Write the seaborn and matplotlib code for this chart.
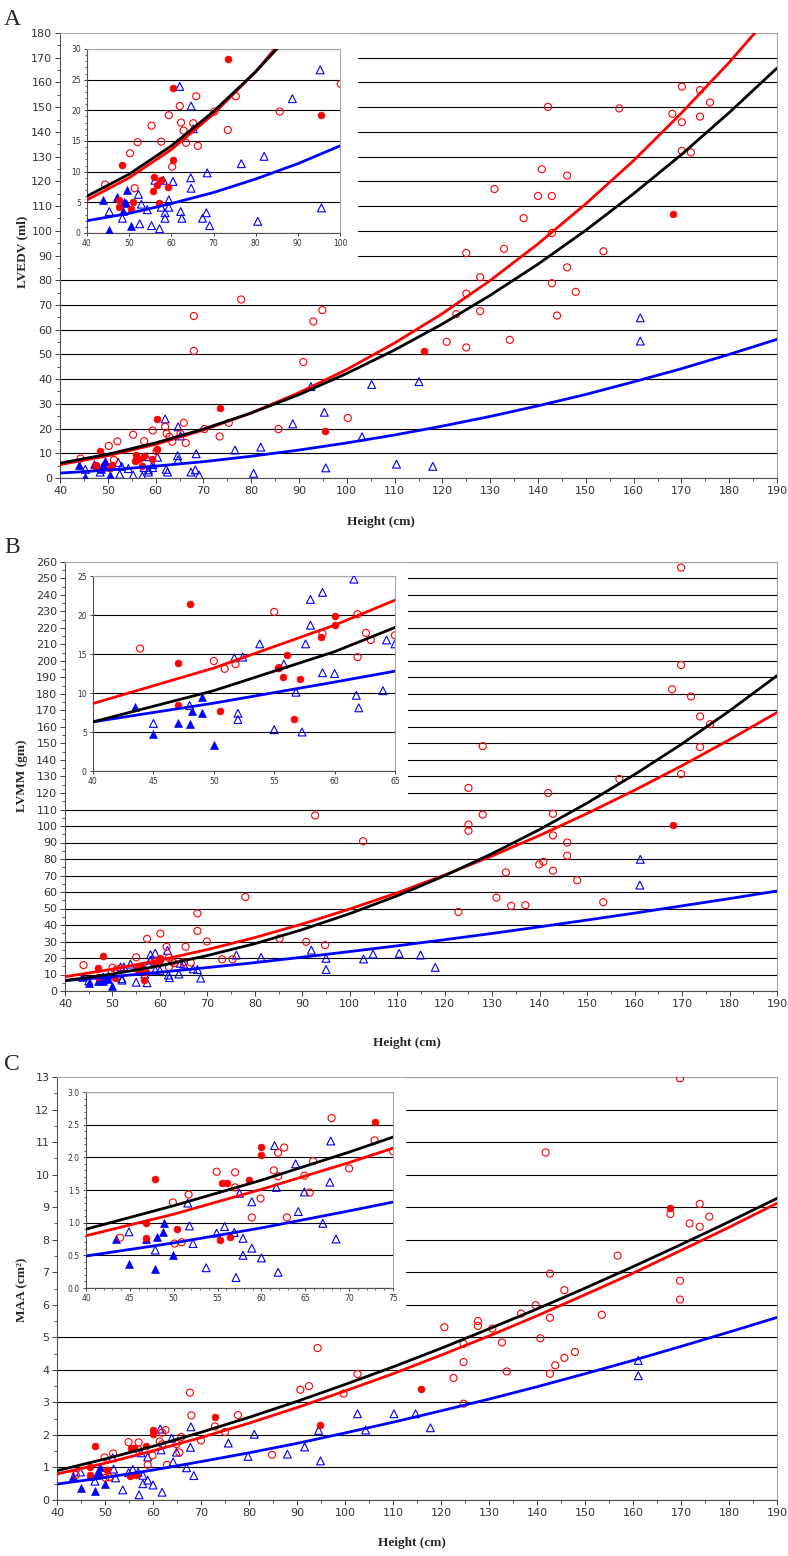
import numpy as np
import pandas as pd
import matplotlib.pyplot as plt
import matplotlib.patches as mpatches
from matplotlib.ticker import MultipleLocator, FormatStrFormatter
import seaborn as sns

sns.set_style("ticks")
plt.rcParams['font.family'] = ['DejaVu Sans']

W, H = 788, 1556

# ---------------- data ----------------
heights = [40, 50, 60, 70, 80, 90, 100, 110, 120, 130, 140, 150, 160, 170, 180, 190]

# Panel A - LVEDV (ml)
A_open_red_x = [44.3, 50.2, 52.0, 51.3, 55.3, 57.6, 59.4, 62.0, 62.3, 62.9, 63.5, 65.2, 65.9, 66.3, 60.2,
                70.2, 73.4, 75.3, 85.7, 100.2, 68.0, 68.0, 77.9, 90.9, 93.0, 94.9, 120.9, 125.0, 122.9, 127.9,
                125.0, 127.9, 125.0, 132.9, 134.1, 130.9, 137.0, 140.0, 142.9, 140.8, 146.1, 142.1, 142.9, 142.9,
                146.1, 147.9, 144.0, 153.7, 157.0, 168.1, 170.1, 170.1, 173.9, 176.0, 173.9, 170.1, 172.0]
A_open_red_y = [7.9, 13.0, 14.8, 7.3, 17.5, 14.9, 19.2, 20.7, 18.0, 16.7, 14.7, 17.9, 22.3, 14.2, 10.8,
                19.8, 16.8, 22.3, 19.8, 24.3, 65.5, 51.4, 72.2, 46.9, 63.3, 67.9, 55.1, 52.8, 66.3, 67.5,
                74.6, 81.2, 91.0, 92.7, 55.9, 116.9, 105.1, 114.1, 114.1, 124.9, 122.3, 150.1, 99.1, 78.8,
                85.2, 75.3, 65.7, 91.7, 149.5, 147.3, 158.3, 143.9, 156.9, 151.9, 146.2, 132.3, 131.7]
A_fill_red_x = [73.5, 60.3, 95.5, 48.4, 60.3, 56.0, 57.6, 56.6, 59.3, 55.7, 47.5, 47.5, 50.9, 50.4, 57.1, 116.2, 168.2]
A_fill_red_y = [28.4, 23.7, 19.2, 11.1, 11.9, 9.2, 8.7, 7.8, 7.5, 6.8, 5.4, 4.3, 5.1, 3.9, 4.9, 51.3, 106.9]
A_open_blue_x = [62.0, 64.7, 65.2, 95.3, 88.7, 82.0, 76.6, 68.5, 64.6, 64.7, 58.1, 60.4, 56.1, 52.2, 52.9,
                 59.4, 57.6, 59.4, 54.3, 58.5, 58.5, 62.2, 62.5, 68.3, 67.4, 69.1, 52.5, 55.3, 57.2, 45.3,
                 48.4, 80.5, 95.6, 105.2, 103.2, 110.4, 92.5, 115.1, 118.0, 161.4, 161.4]
A_open_blue_y = [23.9, 20.7, 17.0, 26.6, 21.9, 12.5, 11.3, 9.8, 9.0, 7.3, 8.6, 8.4, 8.6, 6.3, 4.7,
                 5.4, 4.2, 4.2, 3.8, 3.3, 2.4, 3.5, 2.4, 3.3, 2.4, 1.2, 1.5, 1.2, 0.7, 3.5,
                 2.4, 1.9, 4.1, 37.8, 16.7, 5.6, 37.0, 39.0, 4.7, 64.8, 55.4]
A_fill_blue_x = [43.9, 45.3, 49.4, 47.2, 48.8, 48.5, 50.4, 49.3]
A_fill_blue_y = [5.4, 0.5, 7.0, 5.8, 5.0, 3.6, 1.2, 4.9]
A_fit_black = [6.0, 9.6, 14.2, 19.8, 26.3, 33.7, 42.3, 51.8, 62.3, 73.9, 86.5, 100.2, 115.0, 130.8, 147.8, 165.8]
A_fit_red = [5.4, 9.0, 13.6, 19.4, 26.3, 34.5, 43.9, 54.6, 66.5, 79.9, 94.7, 110.9, 128.4, 147.6, 168.1, 190.3]
A_fit_blue = [2.0, 3.2, 4.8, 6.6, 8.8, 11.3, 14.2, 17.4, 21.0, 24.9, 29.2, 33.8, 38.9, 44.2, 50.0, 56.1]

# Panel B - LVMM (gm)
B_open_red_x = [43.9, 55.0, 50.0, 50.9, 51.8, 55.4, 59.0, 61.9, 61.9, 62.6, 63.0, 65.0,
                92.7, 102.8, 78.0, 67.9, 67.9, 60.1, 57.3, 69.9, 65.4, 61.4, 85.2, 90.8, 94.8, 73.1, 75.3, 66.5,
                169.8, 169.8, 167.9, 171.9, 173.8, 175.9, 173.8, 169.8, 156.8, 128.0, 125.0, 128.0, 125.0,
                125.0, 141.8, 142.8, 142.8, 145.8, 145.8, 147.9, 142.8, 140.8, 139.9, 132.9, 130.9, 134.0,
                137.0, 153.4, 122.9]
B_open_red_y = [15.7, 20.4, 14.1, 13.1, 13.7, 13.2, 17.6, 20.1, 14.6, 17.7, 16.8, 17.4,
                106.4, 90.8, 57.0, 47.0, 36.4, 34.8, 31.6, 30.0, 26.8, 26.8, 31.8, 29.8, 27.8, 19.2, 19.2, 17.2,
                256.6, 197.6, 182.9, 178.5, 166.4, 161.7, 147.8, 131.5, 128.5, 148.4, 123.1, 106.9, 100.9,
                97.1, 120.0, 107.4, 94.3, 90.0, 82.0, 67.1, 72.9, 78.3, 76.7, 71.9, 56.6, 51.6,
                52.0, 53.8, 47.9]
B_fill_red_x = [48.0, 47.0, 47.0, 50.5, 60.0, 60.0, 58.9, 56.1, 55.7, 57.1, 56.6, 55.3, 168.0]
B_fill_red_y = [21.4, 13.8, 8.4, 7.7, 19.9, 18.7, 17.2, 14.9, 12.0, 11.8, 6.7, 13.2, 100.5]
B_open_blue_x = [61.6, 59.0, 58.0, 58.0, 57.6, 53.8, 51.7, 52.4, 55.8, 59.0, 60.0, 64.3, 65.0, 61.8, 62.0,
                 64.0, 56.8, 52.0, 52.0, 48.0, 45.0, 55.0, 57.3,
                 91.9, 95.0, 95.0, 102.9, 104.9, 110.4, 81.3, 76.1, 68.6, 67.9, 67.0, 114.9, 118.0, 161.2, 161.1]
B_open_blue_y = [24.6, 22.9, 22.0, 18.7, 16.3, 16.3, 14.5, 14.6, 13.7, 12.6, 12.5, 16.8, 16.3, 9.7, 8.1,
                 10.3, 10.1, 7.4, 6.6, 8.4, 6.1, 5.3, 5.0,
                 24.8, 19.8, 13.0, 19.4, 22.4, 22.8, 20.4, 21.8, 7.8, 13.0, 13.4, 21.8, 14.3, 79.8, 64.2]
B_fill_blue_x = [43.5, 45.0, 47.0, 48.0, 48.2, 49.0, 49.0, 50.0]
B_fill_blue_y = [8.2, 4.7, 6.2, 6.0, 7.7, 9.5, 7.4, 3.3]
B_fit_black = [6.3, 10.3, 15.3, 21.5, 28.7, 37.2, 46.9, 57.7, 69.9, 83.3, 97.9, 113.9, 131.2, 149.8, 169.8, 191.1]
B_fit_red = [8.65, 13.2, 18.7, 25.1, 32.4, 40.6, 49.7, 59.5, 70.3, 81.9, 94.3, 107.6, 121.7, 136.6, 152.3, 168.8]
B_fit_blue = [6.3, 8.7, 11.4, 14.2, 17.2, 20.5, 23.9, 27.4, 31.1, 34.9, 38.9, 43.0, 47.2, 51.6, 56.0, 60.6]

# Panel C - MAA (cm2)
C_open_red_x = [68.0, 72.9, 75.0, 62.6, 61.9, 61.4, 61.9, 65.9, 64.9, 65.5, 70.0, 54.9, 57.0, 57.0, 51.7,
                49.9, 59.9, 58.9, 62.9, 43.9, 50.1, 50.9,
                94.3, 102.6, 90.7, 92.5, 67.7, 99.7, 77.7, 84.8,
                169.8, 141.8, 167.8, 173.9, 175.9, 171.8, 173.9, 156.8, 142.7, 169.8, 169.8, 145.7, 139.7,
                136.7, 142.7, 153.5, 120.7, 127.7, 127.7, 130.7, 132.7, 124.7, 140.7, 124.7, 122.6, 133.7,
                145.7, 147.9, 143.8, 142.7, 124.7]
C_open_red_y = [2.60, 2.26, 2.09, 2.15, 2.07, 1.80, 1.71, 1.94, 1.72, 1.46, 1.83, 1.78, 1.77, 1.54, 1.43,
                1.31, 1.37, 1.08, 1.08, 0.77, 0.68, 0.70,
                4.67, 3.87, 3.39, 3.50, 3.30, 3.27, 2.61, 1.39,
                12.96, 10.68, 8.79, 9.10, 8.71, 8.50, 8.40, 7.51, 6.96, 6.74, 6.16, 6.45, 5.99,
                5.73, 5.60, 5.69, 5.31, 5.50, 5.35, 5.27, 4.84, 4.80, 4.97, 4.24, 3.75, 3.95,
                4.37, 4.55, 4.14, 3.88, 2.96]
C_fill_red_x = [73.0, 59.9, 59.9, 47.9, 55.5, 56.1, 58.6, 46.8, 50.4, 46.8, 55.3, 56.4, 94.7, 167.8, 115.8]
C_fill_red_y = [2.54, 2.16, 2.04, 1.67, 1.61, 1.61, 1.65, 1.00, 0.91, 0.77, 0.73, 0.78, 2.30, 8.96, 3.40]
C_open_blue_x = [61.5, 67.9, 63.9, 67.8, 61.7, 57.5, 64.9, 51.6, 58.9, 64.2, 51.8, 55.8, 54.9, 56.9, 57.9,
                 67.0, 68.5, 44.9, 47.9, 52.2, 58.9, 57.9, 60.0, 53.7, 57.1, 61.9,
                 75.7, 81.1, 79.8, 88.0, 91.6, 94.5, 94.9, 102.6, 104.3, 110.2, 114.7, 117.8, 161.1, 161.1]
C_open_blue_y = [2.18, 2.25, 1.90, 1.62, 1.54, 1.45, 1.47, 1.30, 1.32, 1.17, 0.95, 0.94, 0.84, 0.85, 0.76,
                 0.99, 0.75, 0.86, 0.58, 0.68, 0.61, 0.50, 0.46, 0.31, 0.16, 0.24,
                 1.75, 2.02, 1.34, 1.41, 1.63, 2.14, 1.20, 2.65, 2.15, 2.65, 2.65, 2.22, 4.29, 3.82]
C_fill_blue_x = [43.4, 44.9, 46.8, 48.1, 48.9, 48.8, 47.9, 49.9]
C_fill_blue_y = [0.75, 0.36, 0.75, 0.78, 1.00, 0.86, 0.29, 0.50]
C_fit_black = [0.90, 1.26, 1.65, 2.08, 2.54, 3.03, 3.55, 4.09, 4.66, 5.26, 5.87, 6.51, 7.17, 7.85, 8.55, 9.27]
C_fit_red = [0.80, 1.13, 1.51, 1.92, 2.36, 2.84, 3.35, 3.88, 4.45, 5.04, 5.66, 6.31, 6.97, 7.67, 8.38, 9.12]
C_fit_blue = [0.49, 0.69, 0.92, 1.18, 1.45, 1.74, 2.06, 2.39, 2.74, 3.10, 3.48, 3.88, 4.29, 4.72, 5.16, 5.61]


# ---------------- helpers ----------------
def rect(l, t, r, b):
    return [l / W, 1 - b / H, (r - l) / W, (b - t) / H]


def draw(ax, pts, fits):
    orx, ory, frx, fry, obx, oby, fbx, fby = pts
    sns.scatterplot(x=obx, y=oby, ax=ax, marker='^', s=32, facecolors='none',
                    edgecolor='blue', linewidth=0.8, zorder=3)
    sns.scatterplot(x=fbx, y=fby, ax=ax, marker='^', s=32, color='blue',
                    edgecolor='blue', linewidth=0.5, zorder=3)
    sns.scatterplot(x=orx, y=ory, ax=ax, marker='o', s=26, facecolors='none',
                    edgecolor='red', linewidth=0.8, zorder=3)
    sns.scatterplot(x=frx, y=fry, ax=ax, marker='o', s=24, color='red',
                    edgecolor='red', linewidth=0.5, zorder=3)
    for yy, c in zip(fits, ['blue', 'red', 'black']):
        sns.lineplot(x=heights, y=yy, ax=ax, color=c, linewidth=2.0, zorder=4)
    ax.set_xlabel('')
    ax.set_ylabel('')


def style(ax, xlim, ylim, xstep, ystep, xminor, yminor, fs, tl, yfmt=None):
    ax.set_xlim(*xlim)
    ax.set_ylim(*ylim)
    ax.xaxis.set_major_locator(MultipleLocator(xstep))
    ax.yaxis.set_major_locator(MultipleLocator(ystep))
    if xminor:
        ax.xaxis.set_minor_locator(MultipleLocator(xminor))
    if yminor:
        ax.yaxis.set_minor_locator(MultipleLocator(yminor))
    if yfmt:
        ax.yaxis.set_major_formatter(FormatStrFormatter(yfmt))
    ax.yaxis.grid(True, color='black', linewidth=0.8)
    ax.xaxis.grid(False)
    ax.set_axisbelow(True)
    ax.tick_params(which='major', direction='out', length=tl, width=0.7, color='#404040',
                   labelsize=fs, labelcolor='#333333', pad=2)
    ax.tick_params(which='minor', direction='out', length=tl * 0.6, width=0.6, color='#404040')
    for s in ['left', 'bottom']:
        ax.spines[s].set_color('#505050')
        ax.spines[s].set_linewidth(0.8)
    for s in ['top', 'right']:
        ax.spines[s].set_color('#a8a8a8')
        ax.spines[s].set_linewidth(0.8)
        ax.spines[s].set_visible(True)


fig = plt.figure(figsize=(W / 100, H / 100), dpi=100)

panels = [
    dict(letter='A', ylab='LVEDV (ml)',
         pts=(A_open_red_x, A_open_red_y, A_fill_red_x, A_fill_red_y,
              A_open_blue_x, A_open_blue_y, A_fill_blue_x, A_fill_blue_y),
         fits=(A_fit_blue, A_fit_red, A_fit_black),
         main=(60, 33, 777, 478), ins=(87, 49, 340, 233), box=(61, 34, 358, 260),
         mylim=(0, 180), mystep=10, myminor=5, myfmt=None,
         ixlim=(40, 100), iylim=(0, 30), ixstep=10, iystep=5, ixminor=None, iyminor=1, iyfmt=None,
         letter_y=25, ylab_y=252, xlab=(381, 522)),
    dict(letter='B', ylab='LVMM (gm)',
         pts=(B_open_red_x, B_open_red_y, B_fill_red_x, B_fill_red_y,
              B_open_blue_x, B_open_blue_y, B_fill_blue_x, B_fill_blue_y),
         fits=(B_fit_blue, B_fit_red, B_fit_black),
         main=(65, 562, 777, 991), ins=(93, 576, 395, 771), box=(66, 563, 408, 800),
         mylim=(0, 260), mystep=10, myminor=5, myfmt=None,
         ixlim=(40, 65), iylim=(0, 25), ixstep=5, iystep=5, ixminor=None, iyminor=None, iyfmt=None,
         letter_y=553, ylab_y=776, xlab=(407, 1043)),
    dict(letter='C', ylab='MAA (cm²)',
         pts=(C_open_red_x, C_open_red_y, C_fill_red_x, C_fill_red_y,
              C_open_blue_x, C_open_blue_y, C_fill_blue_x, C_fill_blue_y),
         fits=(C_fit_blue, C_fit_red, C_fit_black),
         main=(57, 1077, 777, 1500), ins=(86, 1092, 393, 1288), box=(58, 1078, 406, 1315),
         mylim=(0, 13), mystep=1, myminor=0.5, myfmt=None,
         ixlim=(40, 75), iylim=(0, 3), ixstep=5, iystep=0.5, ixminor=1, iyminor=0.1, iyfmt='%.1f',
         letter_y=1070, ylab_y=1290, xlab=(412, 1543)),
]

for p in panels:
    ax = fig.add_axes(rect(*p['main']))
    ax.set_zorder(1)
    draw(ax, p['pts'], p['fits'])
    style(ax, (40, 190), p['mylim'], 10, p['mystep'], 5, p['myminor'], 8, 3.5, p['myfmt'])

    l, t, r, b = p['box']
    fig.add_artist(mpatches.Rectangle((l / W, 1 - b / H), (r - l) / W, (b - t) / H,
                                      transform=fig.transFigure, facecolor='white',
                                      edgecolor='none', zorder=2))

    ins = fig.add_axes(rect(*p['ins']))
    ins.set_zorder(3)
    draw(ins, p['pts'], p['fits'])
    style(ins, p['ixlim'], p['iylim'], p['ixstep'], p['iystep'], p['ixminor'], p['iyminor'],
          5.5, 2.5, p['iyfmt'])

    fig.text(4 / W, 1 - p['letter_y'] / H, p['letter'], fontsize=17,
             family='Liberation Serif', va='baseline', ha='left')
    fig.text(22 / W, 1 - p['ylab_y'] / H, p['ylab'], rotation=90, fontsize=9.5,
             family='Liberation Serif', fontweight='bold', ha='center', va='center')
    fig.text(p['xlab'][0] / W, 1 - p['xlab'][1] / H, 'Height (cm)', fontsize=9.5,
             family='Liberation Serif', fontweight='bold', ha='center', va='center')

fig.savefig('out.png', dpi=100)
